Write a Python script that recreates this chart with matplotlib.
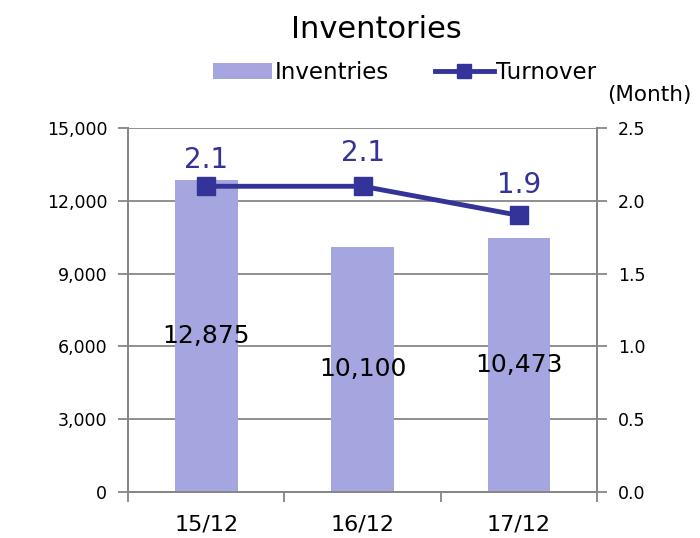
import matplotlib.pyplot as plt
from matplotlib.lines import Line2D
from matplotlib.patches import Patch

categories = ["15/12", "16/12", "17/12"]
inventories = [12875, 10100, 10473]
turnover = [2.1, 2.1, 1.9]
inv_labels = ["12,875", "10,100", "10,473"]
turn_labels = ["2.1", "2.1", "1.9"]

BAR_COLOR = "#A5A5DF"
LINE_COLOR = "#333399"
GRID_COLOR = "#868686"

plt.rcParams['font.family'] = ['DejaVu Sans']

fig = plt.figure(figsize=(7, 5.38), dpi=100)
ax = fig.add_axes([0.183, 0.0855, 0.67, 0.6765])
ax2 = ax.twinx()

x = list(range(len(categories)))
ax.bar(x, inventories, width=0.4, color=BAR_COLOR, zorder=2)
ax.set_xlim(-0.5, 2.5)
ax.set_ylim(0, 15000)
ax.set_yticks(range(0, 15001, 3000))
ax.set_yticklabels([f"{v:,}" for v in range(0, 15001, 3000)])
ax.grid(axis='y', color=GRID_COLOR, linewidth=1.3, zorder=0)
ax.set_axisbelow(True)

ax.set_xticks(x)
ax.set_xticklabels(categories)
ax.set_xticks([-0.5, 0.5, 1.5, 2.5], minor=True)
ax.tick_params(axis='x', which='major', length=0, pad=16, labelsize=16)
ax.tick_params(axis='x', which='minor', length=7, color=GRID_COLOR, width=1.3)
ax.tick_params(axis='y', length=7, color=GRID_COLOR, width=1.3, labelsize=12.5, pad=8)

for i, v in enumerate(inventories):
    ax.text(x[i], v / 2, inv_labels[i], ha='center', va='center', fontsize=18, color='black', zorder=5)

ax2.plot(x, turnover, color=LINE_COLOR, linewidth=3.5, marker='s', markersize=13, zorder=4)
ax2.set_ylim(0, 2.5)
ax2.set_yticks([0, 0.5, 1.0, 1.5, 2.0, 2.5])
ax2.set_yticklabels(["0.0", "0.5", "1.0", "1.5", "2.0", "2.5"])
ax2.tick_params(axis='y', length=7, color=GRID_COLOR, width=1.3, labelsize=12.5, pad=8)

offsets = [0.18, 0.23, 0.21]
for i, v in enumerate(turnover):
    ax2.text(x[i], v + offsets[i], turn_labels[i], ha='center', va='center', fontsize=20, color=LINE_COLOR)

for a in (ax, ax2):
    a.spines['top'].set_visible(False)
    for side in ('left', 'right', 'bottom'):
        a.spines[side].set_color(GRID_COLOR)
        a.spines[side].set_linewidth(1.3)

fig.text(0.537, 0.945, "Inventories", ha='center', va='center', fontsize=22)
fig.text(0.928, 0.823, "(Month)", ha='center', va='center', fontsize=15.5)

handles = [Patch(facecolor=BAR_COLOR, edgecolor='none'),
           Line2D([0], [0], color=LINE_COLOR, linewidth=3.5, marker='s', markersize=10)]
fig.legend(handles, ["Inventries", "Turnover"], loc='center', bbox_to_anchor=(0.578, 0.865),
           ncol=2, frameon=False, fontsize=16.5, handlelength=2.6, handletextpad=0.1,
           columnspacing=2.0)

fig.savefig("out.png", dpi=100)
